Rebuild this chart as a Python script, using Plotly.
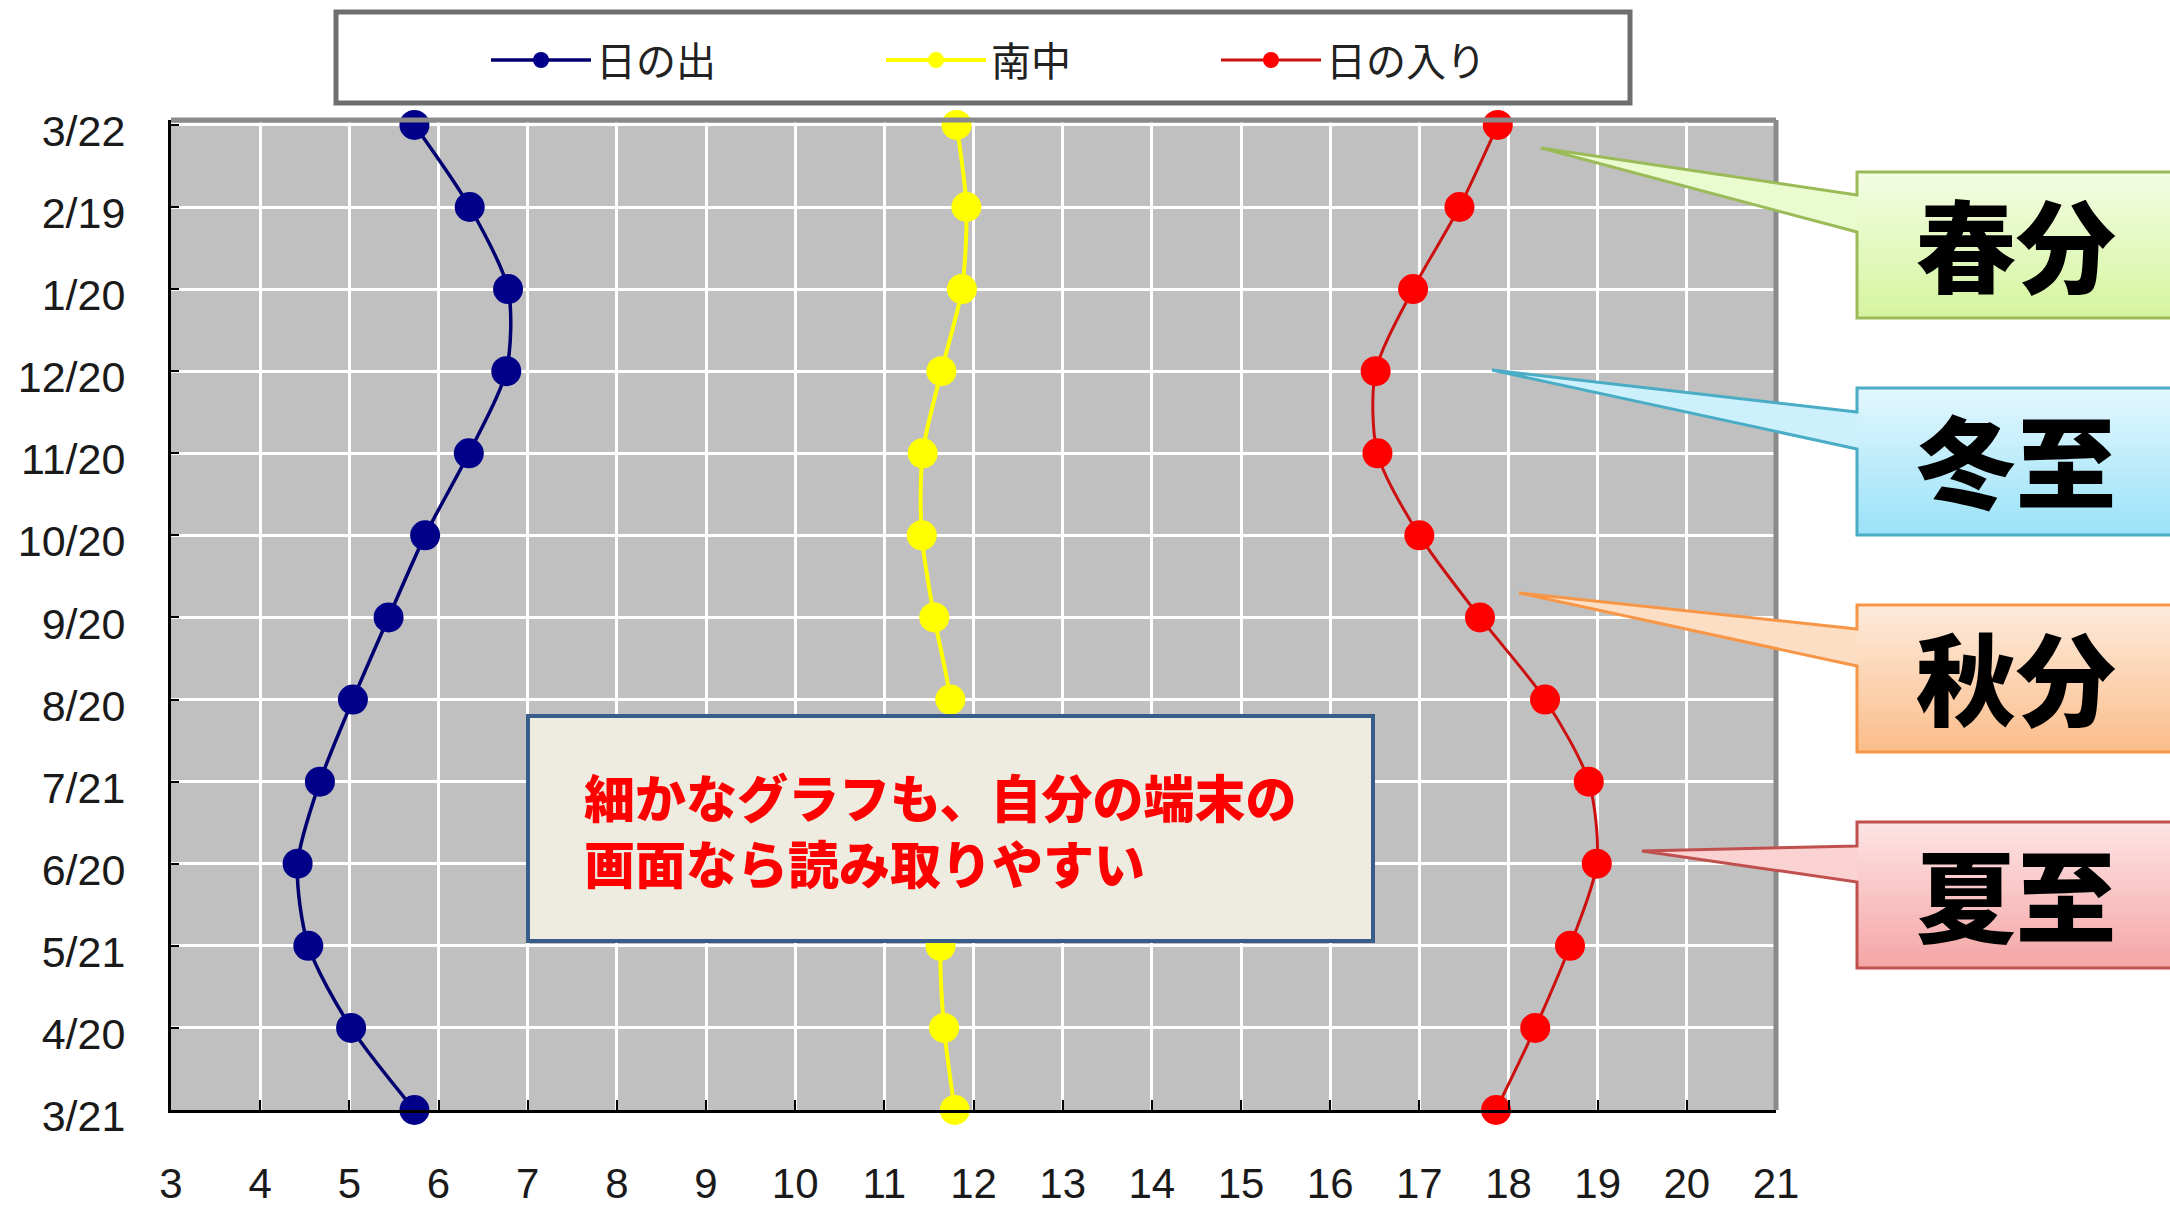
import plotly.graph_objects as go

# ---------------- data ----------------
dates = ["3/21", "4/20", "5/21", "6/20", "7/21", "8/20", "9/20",
         "10/20", "11/20", "12/20", "1/20", "2/19", "3/22"]
sunrise = [5.73, 5.02, 4.54, 4.42, 4.67, 5.04, 5.44, 5.85, 6.34, 6.76, 6.78, 6.35, 5.73]
meridian = [11.79, 11.67, 11.63, 11.72, 11.77, 11.74, 11.56, 11.42, 11.43, 11.64, 11.87, 11.92, 11.81]
sunset = [17.86, 18.30, 18.69, 18.99, 18.90, 18.41, 17.68, 17.00, 16.53, 16.51, 16.93, 17.45, 17.88]
series_names = ["日の出", "南中", "日の入り"]
x_tickvals = list(range(3, 22))
callout_labels = ["春分", "冬至", "秋分", "夏至"]
note_lines = ["細かなグラフも、自分の端末の", "画面なら読み取りやすい"]

# ---------------- geometry (pixels) ----------------
W, H = 2170, 1208
L, R, T, B = 171, 1776, 120, 1110


def px(x):
    return (x - L) / (R - L)


def py(y):
    return (B - y) / (B - T)


FONT = "Noto Sans CJK JP"
TICKFONT = "Liberation Sans, Arial, sans-serif"
# trailing full-width padding to space the legend entries like the reference
PADS = ["\u3000" * 4, "\u3000" * 3 + "\u2002", ""]

fig = go.Figure()
styles = [
    (sunrise, "#000088", "#000070", 3.5),
    (meridian, "#ffff00", "#ffff00", 4),
    (sunset, "#ff0000", "#cc1010", 3),
]
for name, pad, (vals, mcol, lcol, lw) in zip(series_names, PADS, styles):
    fig.add_trace(go.Scatter(
        x=vals, y=dates, mode="lines+markers",
        name=name + pad,
        line=dict(color=lcol, width=lw, shape="spline", smoothing=0.8),
        marker=dict(color=mcol, size=30),
        cliponaxis=False,
    ))

shapes = []
annotations = []

# plot frame (top/right grey edges)
shapes.append(dict(type="line", xref="paper", yref="paper", x0=px(L), x1=px(R), y0=py(T), y1=py(T),
                   line=dict(color="#8a8a8a", width=5), layer="above"))
shapes.append(dict(type="line", xref="paper", yref="paper", x0=px(R), x1=px(R), y0=py(T), y1=py(B),
                   line=dict(color="#8a8a8a", width=5), layer="above"))

# legend frame
shapes.append(dict(type="rect", xref="paper", yref="paper", x0=px(336), x1=px(1630), y0=py(12), y1=py(103),
                   fillcolor="white", line=dict(color="#6e6e6e", width=5), layer="above"))

# note box
shapes.append(dict(type="rect", xref="paper", yref="paper", x0=px(528), x1=px(1373), y0=py(716), y1=py(941),
                   fillcolor="#eeece1", line=dict(color="#385d8a", width=4), layer="above"))
annotations.append(dict(xref="paper", yref="paper", x=px(582), y=py(829), xanchor="left", yanchor="middle",
                        align="left", showarrow=False, text="<br>".join(note_lines),
                        font=dict(family=FONT, size=51, color="#ff0000", weight=900)))


def hex2rgb(h):
    h = h.lstrip("#")
    return tuple(int(h[i:i + 2], 16) for i in (0, 2, 4))


def mix(c1, c2, t):
    a, b = hex2rgb(c1), hex2rgb(c2)
    return "rgb(%d,%d,%d)" % tuple(round(a[i] + (b[i] - a[i]) * t) for i in range(3))


# callouts: top, bottom, base1, base2, tipx, tipy, fill top, fill bottom, border
callouts = [
    (172, 318, 195, 232, 1541, 148, "#f3fde3", "#d5f59f", "#9bbb59"),
    (388, 535, 412, 449, 1492, 370, "#e2f7fe", "#9be2f8", "#4bacc6"),
    (605, 752, 629, 666, 1519, 593, "#fdebdc", "#fbbd8a", "#f79646"),
    (822, 968, 846, 882, 1642, 851, "#fde4e4", "#f5a5a5", "#c0504d"),
]
BX0, BX1 = 1857, 2190
for label, (top, bot, b1, b2, tx, ty, c0, c1, bc) in zip(callout_labels, callouts):
    path = "M {a},{t} L {c},{t} L {c},{b} L {a},{b} L {a},{b2} L {tx},{ty} L {a},{b1} Z".format(
        a=px(BX0), c=px(BX1), t=py(top), b=py(bot), b1=py(b1), b2=py(b2), tx=px(tx), ty=py(ty))
    tfrac = ((b1 + b2) / 2 - top) / (bot - top)
    shapes.append(dict(type="path", xref="paper", yref="paper", path=path,
                       fillcolor=mix(c0, c1, tfrac), line=dict(width=0), layer="above"))
    n = 30
    for i in range(n):
        y0 = top + (bot - top) * i / n
        y1 = top + (bot - top) * (i + 1) / n
        shapes.append(dict(type="rect", xref="paper", yref="paper", x0=px(BX0), x1=px(BX1),
                           y0=py(y0), y1=py(y1 + 0.6), fillcolor=mix(c0, c1, (i + 0.5) / n),
                           line=dict(width=0), layer="above"))
    shapes.append(dict(type="path", xref="paper", yref="paper", path=path,
                       fillcolor="rgba(0,0,0,0)", line=dict(color=bc, width=3), layer="above"))
    annotations.append(dict(xref="paper", yref="paper", x=px(2016), y=py((top + bot) / 2 - 4),
                            xanchor="center", yanchor="middle", showarrow=False, text=label,
                            font=dict(family=FONT, size=100, color="#000000", weight=900)))

fig.update_layout(
    width=W, height=H,
    margin=dict(l=L, r=W - R, t=T, b=H - B, pad=0, autoexpand=False),
    paper_bgcolor="white", plot_bgcolor="#c0c0c0",
    shapes=shapes, annotations=annotations,
    showlegend=True,
    legend=dict(orientation="h", x=px(486), xanchor="left", y=py(60), yanchor="middle",
                bgcolor="rgba(0,0,0,0)", borderwidth=0, itemwidth=100,
                font=dict(family=FONT, size=40, color="#222222")),
    xaxis=dict(range=[3, 21], tickvals=x_tickvals, showgrid=True, gridcolor="white", gridwidth=3,
               showline=True, linecolor="black", linewidth=3, ticks="inside", ticklen=10,
               tickwidth=2, tickcolor="black", zeroline=False, ticklabelstandoff=35,
               automargin=False,
               tickfont=dict(family=TICKFONT, size=42, color="#1a1a1a")),
    yaxis=dict(type="category", categoryorder="array", categoryarray=dates, range=[0, 12.06],
               showgrid=True, gridcolor="white", gridwidth=3,
               showline=True, linecolor="black", linewidth=3, ticks="inside", ticklen=8,
               tickwidth=2, tickcolor="black", zeroline=False, ticklabelstandoff=34,
               ticklabelshift=6, automargin=False,
               tickfont=dict(family=TICKFONT, size=43, color="#1a1a1a")),
)

fig.write_html("out.html", config={"displayModeBar": False},
               post_script="document.body.style.margin='0px';document.body.style.overflow='hidden';")
